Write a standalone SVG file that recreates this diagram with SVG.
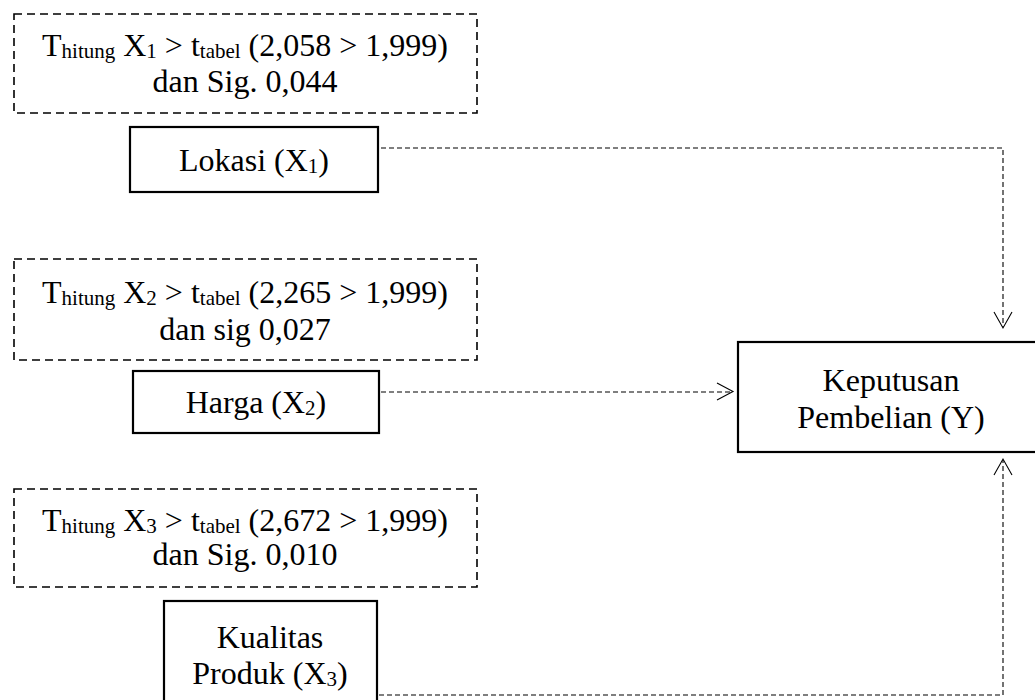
<svg xmlns="http://www.w3.org/2000/svg" width="1035" height="700" viewBox="0 0 1035 700">
<style>
text{font-family:"Liberation Serif","Times New Roman",serif;font-size:32px;fill:#000;text-anchor:middle}
.sub{font-size:21px}
.note{fill:none;stroke:#000;stroke-width:1.6;stroke-dasharray:8,5}
.box{fill:#fff;stroke:#000;stroke-width:2.2}
.conn{fill:none;stroke:#000;stroke-width:1.1;stroke-dasharray:5,3}
.head{fill:none;stroke:#000;stroke-width:1.1}
</style>
<rect width="1035" height="700" fill="#fff"/>
<g id="note1">
<rect class="note" x="14" y="14" width="463" height="99"/>
<text x="245" y="56">T<tspan class="sub" dy="2">hitung</tspan><tspan dy="-2"> X</tspan><tspan class="sub" dy="2">1</tspan><tspan dy="-2"> &gt; t</tspan><tspan class="sub" dy="2">tabel</tspan><tspan dy="-2"> (2,058 &gt; 1,999)</tspan></text>
<text x="245" y="92">dan Sig. 0,044</text>
</g>
<g id="lokasi">
<rect class="box" x="130" y="127" width="248" height="65"/>
<text x="254" y="171">Lokasi (X<tspan class="sub" dy="2">1</tspan><tspan dy="-2">)</tspan></text>
</g>
<g id="note2">
<rect class="note" x="14" y="259" width="463" height="101"/>
<text x="245" y="303">T<tspan class="sub" dy="2">hitung</tspan><tspan dy="-2"> X</tspan><tspan class="sub" dy="2">2</tspan><tspan dy="-2"> &gt; t</tspan><tspan class="sub" dy="2">tabel</tspan><tspan dy="-2"> (2,265 &gt; 1,999)</tspan></text>
<text x="245" y="340">dan sig 0,027</text>
</g>
<g id="harga">
<rect class="box" x="133" y="371" width="246" height="62"/>
<text x="256" y="413">Harga (X<tspan class="sub" dy="2">2</tspan><tspan dy="-2">)</tspan></text>
</g>
<g id="note3">
<rect class="note" x="14" y="489" width="463" height="98"/>
<text x="245" y="531">T<tspan class="sub" dy="2">hitung</tspan><tspan dy="-2"> X</tspan><tspan class="sub" dy="2">3</tspan><tspan dy="-2"> &gt; t</tspan><tspan class="sub" dy="2">tabel</tspan><tspan dy="-2"> (2,672 &gt; 1,999)</tspan></text>
<text x="245" y="565">dan Sig. 0,010</text>
</g>
<g id="kualitas">
<rect class="box" x="164" y="601" width="213" height="110"/>
<text x="270" y="648">Kualitas</text>
<text x="270" y="684">Produk (X<tspan class="sub" dy="2">3</tspan><tspan dy="-2">)</tspan></text>
</g>
<g id="keputusan">
<rect class="box" x="738" y="342" width="310" height="110"/>
<text x="891" y="391">Keputusan</text>
<text x="891" y="428">Pembelian (Y)</text>
</g>
<g id="connectors">
<path class="conn" d="M381,148 H1003 V327"/>
<path class="head" d="M994,312 L1003,328 L1012,312"/>
<path class="conn" d="M381,392 H731"/>
<path class="head" d="M717,383 L733,391.5 L717,400"/>
<path class="conn" d="M379,695 H1003 V460"/>
<path class="head" d="M994,475 L1003,459 L1012,475"/>
</g>
</svg>
